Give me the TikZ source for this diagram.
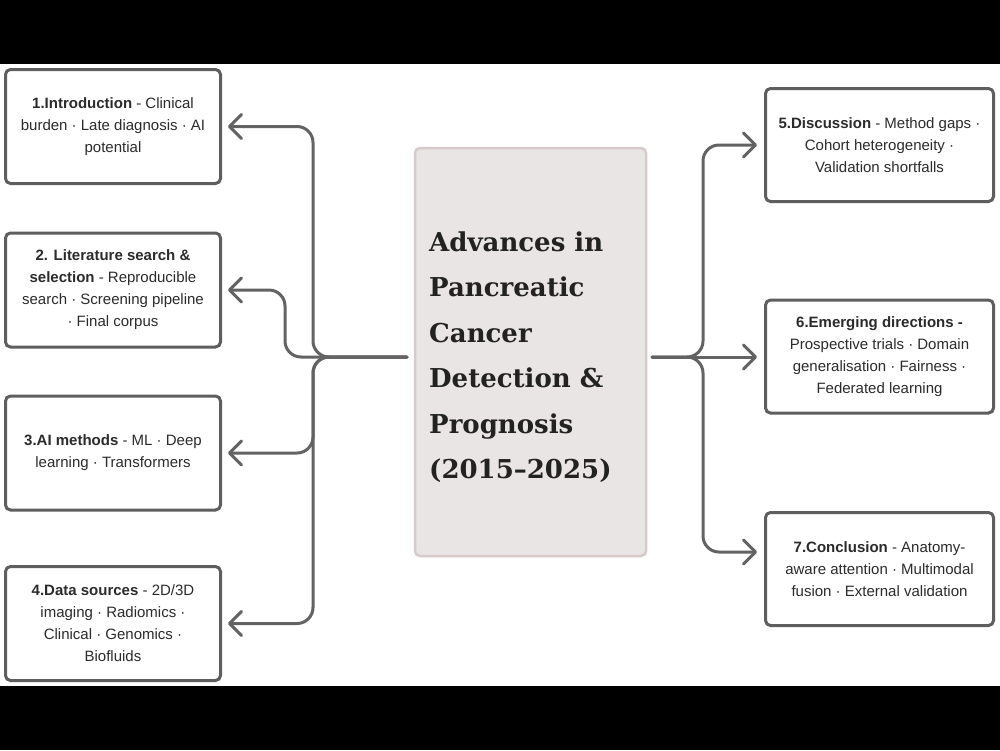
\documentclass[tikz,border=0pt]{standalone}
\usepackage{fontspec}
\setmainfont{Liberation Sans}
\newfontfamily\titlefont{DejaVu Serif}
\usetikzlibrary{arrows.meta,calc}
\definecolor{linegray}{HTML}{636363}
\definecolor{boxborder}{HTML}{5E5E5E}
\definecolor{txt}{HTML}{2B2B2B}
\definecolor{ttxt}{HTML}{222222}
\definecolor{cfill}{HTML}{EAE5E5}
\definecolor{cborder}{HTML}{D6CACA}
\tikzset{
  secbox/.style={draw=boxborder, line width=3pt, rounded corners=5pt, fill=white,
    align=center, text=txt, inner sep=0pt,
    font=\fontsize{15}{22}\selectfont},
  lbox/.style={secbox, minimum width=215pt, minimum height=114pt},
  rbox/.style={secbox, minimum width=228pt, minimum height=113pt},
  centerbox/.style={draw=cborder, line width=2.5pt, rounded corners=5pt, fill=cfill,
    minimum width=231pt, minimum height=408pt, inner sep=0pt},
  titletext/.style={align=left, text=ttxt, inner sep=0pt,
    font=\titlefont\bfseries\fontsize{26}{45.5}\selectfont},
  conn/.style={draw=linegray, line width=3pt, rounded corners=16pt, line cap=round,
    -{Straight Barb[length=12pt,width=24pt,round]}},
  lconn/.style={conn, shorten >=6pt},
  rconn/.style={conn, shorten >=7pt}
}
\begin{document}
\begin{tikzpicture}[x=1pt,y=-1pt]
\useasboundingbox (0,0) rectangle (1000,750);
\fill[white] (0,0) rectangle (1000,750);
\fill[black] (0,0) rectangle (1000,64);
\fill[black] (0,686) rectangle (1000,750);

% centre
\node[centerbox] (c) at (530.5,352) {};
\node[titletext, anchor=west] (ct) at (429,357) {Advances in\\Pancreatic\\Cancer\\Detection \&\\Prognosis\\(2015–2025)};

% left boxes
\node[lbox] (b1) at (113,126.5) {\textbf{1.Introduction} - Clinical\\burden · Late diagnosis · AI\\potential};
\node[lbox] (b2) at (113,290) {\textbf{2. Literature search \&}\\\textbf{selection} - Reproducible\\search · Screening pipeline\\· Final corpus};
\node[lbox] (b3) at (113,453) {\textbf{3.AI methods} - ML · Deep\\learning · Transformers};
\node[lbox] (b4) at (113,623.5) {\textbf{4.Data sources} - 2D/3D\\imaging · Radiomics ·\\Clinical · Genomics ·\\Biofluids};

% right boxes
\node[rbox] (b5) at (879.5,145) {\textbf{5.Discussion} - Method gaps ·\\Cohort heterogeneity ·\\Validation shortfalls};
\node[rbox] (b6) at (879.5,356.5) {\textbf{6.Emerging directions -}\\Prospective trials · Domain\\generalisation · Fairness ·\\Federated learning};
\node[rbox] (b7) at (879.5,569) {\textbf{7.Conclusion} - Anatomy-\\aware attention · Multimodal\\fusion · External validation};

% hubs
\coordinate (hl) at (407,357);
\coordinate (vl) at (313,357);
\coordinate (vl2) at (285,357);
\coordinate (hr) at (652,357);
\coordinate (vr) at (703,357);
\coordinate (a7) at ($(b7.west)+(0,-17)$);

% connectors
\draw[lconn] (hl) -- (vl) |- (b1.east);
\draw[lconn] (hl) -- (vl2) |- (b2.east);
\draw[lconn] (hl) -- (vl) |- (b3.east);
\draw[lconn] (hl) -- (vl) |- (b4.east);
\draw[rconn] (hr) -- (vr) |- (b5.west);
\draw[rconn] (hr) -- (b6.west |- hr);
\draw[rconn] (hr) -- (vr) |- (a7);
\end{tikzpicture}
\end{document}
